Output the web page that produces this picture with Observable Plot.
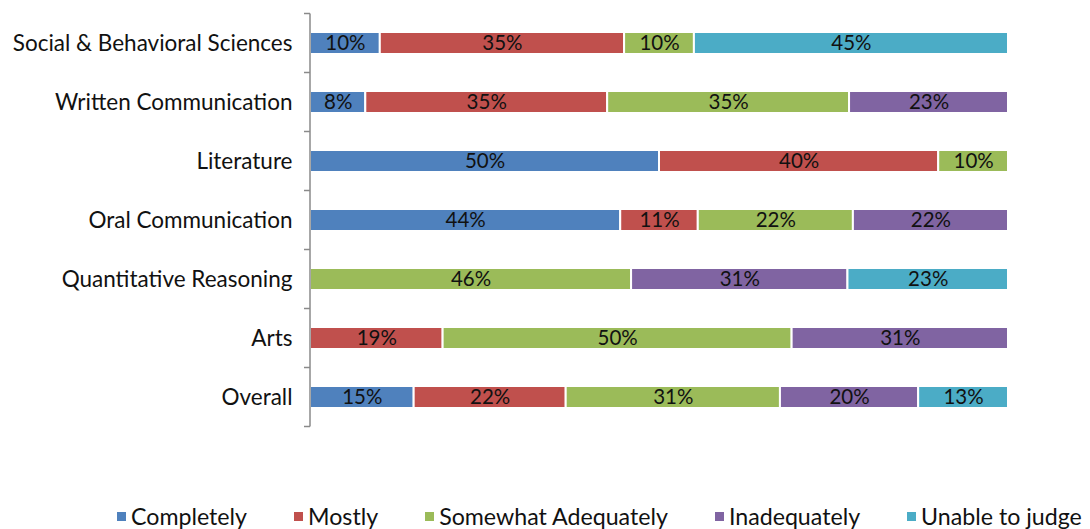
<!DOCTYPE html>
<html><head><meta charset="utf-8">
<script src="https://cdn.jsdelivr.net/npm/d3@7"></script>
<script src="https://cdn.jsdelivr.net/npm/@observablehq/plot@0.6"></script>
<style>
body{margin:0;background:#fff;}
#wrap{position:relative;width:1090px;height:529px;overflow:hidden;font-family:Lato, "Open Sans", sans-serif;}
#legend{position:absolute;left:117px;top:503px;display:flex;gap:47px;font-size:23.2px;line-height:26px;color:#111;white-space:nowrap}
.item{display:flex;align-items:center}
.sw{width:9px;height:9px;margin-right:5px}
</style></head><body><div id="wrap"><div id="chart"></div><div id="legend"></div></div>
<script>
const categories = ["Social & Behavioral Sciences","Written Communication","Literature","Oral Communication","Quantitative Reasoning","Arts","Overall"];
const seriesNames = ["Completely","Mostly","Somewhat Adequately","Inadequately","Unable to judge"];
const colors = ["#4F81BD","#C0504D","#9BBB59","#8064A2","#4BACC6"];
const completely   = [10, 8, 50, 44, 0, 0, 15];
const mostly       = [35, 35, 40, 11, 0, 19, 22];
const somewhat     = [10, 35, 10, 22, 46, 50, 31];
const inadequately = [0, 23, 0, 22, 31, 31, 20];
const unable       = [45, 0, 0, 0, 23, 0, 13];

const seriesValues = [completely, mostly, somewhat, inadequately, unable];
const rows = [];
categories.forEach((c, i) => {
  seriesNames.forEach((s, j) => {
    const v = seriesValues[j][i];
    if (v > 0) rows.push({category: c, series: s, value: v});
  });
});

const chart = Plot.plot({
  width: 1090,
  height: 445,
  marginLeft: 310,
  marginRight: 82,
  marginTop: 10,
  marginBottom: 15,
  style: {fontSize: "22.5px", fontFamily: "Lato, 'Open Sans', sans-serif", color: "#111", background: "white"},
  x: {axis: null, domain: [0, 1]},
  y: {domain: categories, paddingInner: 0.6333, paddingOuter: 0.31667, tickSize: 0, tickPadding: 18, label: null},
  color: {domain: seriesNames, range: colors},
  marks: [
    Plot.barX(rows, Plot.stackX({x: "value", y: "category", fill: "series", order: seriesNames, offset: "normalize", stroke: "white", strokeWidth: 2})),
    Plot.text(rows, Plot.stackX({x: "value", y: "category", z: "series", order: seriesNames, offset: "normalize", text: d => d.value + "%", fill: "#111", fontSize: 20.5}))
  ]
});
document.getElementById("chart").appendChild(chart);

// y axis line with boundary ticks, from the plot's own scales
const ys = chart.scale("y"), xs = chart.scale("x");
const x0 = xs.apply(0);
const half = (ys.step - ys.bandwidth) / 2;
const bounds = ys.domain.map(d => ys.apply(d) - half);
bounds.push(bounds[bounds.length - 1] + ys.step);
const g = d3.select(chart).append("g").attr("stroke", "#8a8a8a").attr("stroke-width", 1.5);
g.append("line").attr("x1", x0).attr("x2", x0).attr("y1", bounds[0]).attr("y2", bounds[bounds.length - 1]);
g.selectAll("line.t").data(bounds).join("line").attr("class", "t")
  .attr("x1", x0 - 6).attr("x2", x0).attr("y1", d => d).attr("y2", d => d);

// legend
const legend = d3.select("#legend");
seriesNames.forEach((s, i) => {
  const it = legend.append("div").attr("class", "item");
  it.append("div").attr("class", "sw").style("background", colors[i]);
  it.append("span").text(s);
});
</script></body></html>
